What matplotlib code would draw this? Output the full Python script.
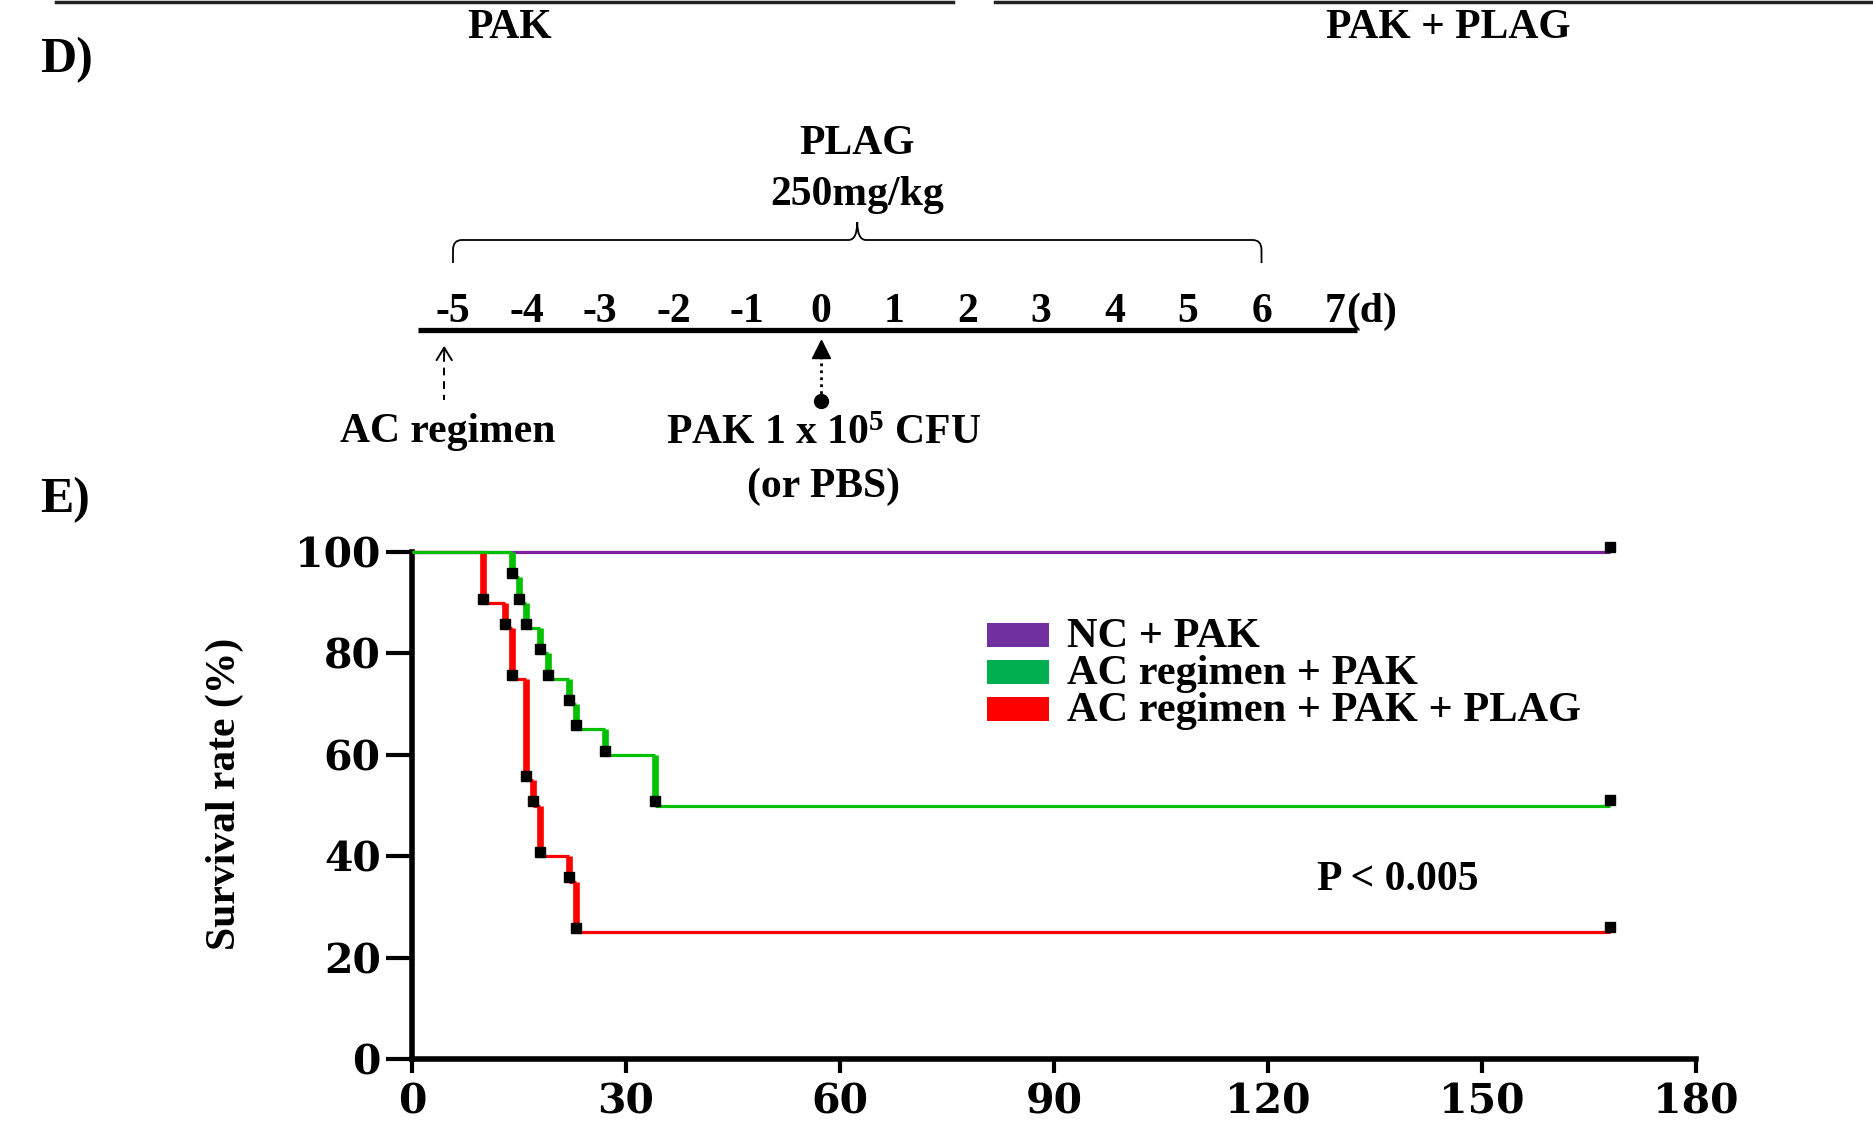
import numpy as np
import matplotlib
matplotlib.use("Agg")
import matplotlib.pyplot as plt
from matplotlib.lines import Line2D
from matplotlib.path import Path
from matplotlib.patches import PathPatch, Rectangle

W, H = 1873, 1122

# panel D: treatment schedule (days)
schedule_days = np.arange(-5, 8)
plag_start, plag_end = -5, 6
ac_day = -5
pak_day = 0

# panel E: Kaplan-Meier survival (%)
followup_end = 168
nc_times = []
nc_surv = []
ac_times = [14, 15, 16, 18, 19, 22, 23, 27, 34]
ac_surv = [95, 90, 85, 80, 75, 70, 65, 60, 50]
plag_times = [10, 13, 14, 16, 17, 18, 22, 23]
plag_surv = [90, 85, 75, 55, 50, 40, 35, 25]

group_labels = ["NC + PAK", "AC regimen + PAK", "AC regimen + PAK + PLAG"]
line_colors = ["#7B1FA0", "#00C000", "#FF0000"]
legend_colors = ["#7030A0", "#00B050", "#FF0000"]
x_ticks = [0, 30, 60, 90, 120, 150, 180]
y_ticks = [0, 20, 40, 60, 80, 100]
p_text = "P < 0.005"

plt.rcParams["font.family"] = ["Liberation Serif", "DejaVu Serif"]
plt.rcParams["font.weight"] = "bold"
plt.rcParams["mathtext.fontset"] = "custom"
plt.rcParams["mathtext.rm"] = "Liberation Serif:bold"
plt.rcParams["mathtext.it"] = "Liberation Serif:italic:bold"
plt.rcParams["mathtext.bf"] = "Liberation Serif:bold"


def fx(x):
    return x / W


def fy(y):
    return 1 - y / H


fig = plt.figure(figsize=(W / 100, H / 100), dpi=100)

# remains of the panel above
for x0, x1 in [(56, 953), (995, 1873)]:
    fig.add_artist(Line2D([fx(x0), fx(x1)], [fy(2), fy(2)], lw=2.5, color="#222222",
                          transform=fig.transFigure))
fig.text(fx(510), fy(28), "PAK", ha="center", va="center", fontsize=30, fontweight="bold")
fig.text(fx(1448), fy(28), "PAK + PLAG", ha="center", va="center", fontsize=30, fontweight="bold")
fig.text(fx(40), fy(60), "D)", ha="left", va="center", fontsize=36, fontweight="bold")
fig.text(fx(40), fy(500), "E)", ha="left", va="center", fontsize=36, fontweight="bold")

# ---- schedule (D) ----
px_per_day = 73.5
x_at_m5 = 453


def day_of(px):
    return -5 + (px - x_at_m5) / px_per_day


tl = fig.add_axes([0, fy(540), 1, 540 / H])
tl.set_xlim(day_of(0), day_of(W))
tl.set_ylim(540, 0)
tl.axis("off")

tl.plot([schedule_days[0] - 0.48, schedule_days[-1] + 0.3], [330, 330], color="black", lw=3.8,
        solid_capstyle="butt")
for d in schedule_days:
    tl.text(d, 312, str(d), ha="center", va="center", fontsize=30, fontweight="bold")
tl.text(schedule_days[-1] + 0.15, 312, "(d)", ha="left", va="center", fontsize=30, fontweight="bold")

# brace over PLAG days
mid = (plag_start + plag_end) / 2
r = 0.12
verts = [(plag_start, 263), (plag_start, 250), (plag_start, 240), (plag_start + r, 240),
         (mid - r, 240), (mid, 240), (mid, 222), (mid, 240), (mid + r, 240),
         (plag_end - r, 240), (plag_end, 240), (plag_end, 250), (plag_end, 263)]
codes = [Path.MOVETO, Path.LINETO, Path.CURVE3, Path.CURVE3,
         Path.LINETO, Path.CURVE3, Path.CURVE3, Path.CURVE3, Path.CURVE3,
         Path.LINETO, Path.CURVE3, Path.CURVE3, Path.LINETO]
tl.add_patch(PathPatch(Path(verts, codes), fill=False, lw=1.3, edgecolor="black"))
tl.text(mid, 144, "PLAG", ha="center", va="center", fontsize=30, fontweight="bold")
tl.text(mid, 195, "250mg/kg", ha="center", va="center", fontsize=30, fontweight="bold")

# AC regimen arrow (dashed, open head)
ax_x = ac_day - 0.12
tl.plot([ax_x, ax_x], [354, 400], color="black", lw=1.4, ls=(0, (4, 3)))
tl.annotate("", xy=(ax_x, 343), xytext=(ax_x, 358),
            arrowprops=dict(arrowstyle="->,head_length=0.9,head_width=0.55", lw=1.4, color="black"))
tl.text(ac_day - 0.07, 432, "AC regimen", ha="center", va="center", fontsize=30, fontweight="bold")

# PAK infection arrow (dotted, filled head, dot)
tl.plot([pak_day, pak_day], [356, 398], color="black", lw=2, ls=(0, (1, 1.5)))
tl.plot(pak_day, 349, marker="^", ms=13, color="black")
tl.plot(pak_day, 401, marker="o", ms=10, color="black")
tl.text(pak_day + 0.04, 434, "PAK 1 x 10$^{5}$ CFU", ha="center", va="center", fontsize=30,
        fontweight="bold")
tl.text(pak_day + 0.04, 487, "(or PBS)", ha="center", va="center", fontsize=30, fontweight="bold")

# ---- survival (E) ----
ax = fig.add_axes([fx(412), fy(1059), (1696 - 412) / W, (1059 - 552) / H])
ax.set_xlim(0, 180)
ax.set_ylim(0, 100)

groups = [(nc_times, nc_surv), (ac_times, ac_surv), (plag_times, plag_surv)]
order = [0, 2, 1]  # green drawn on top
for z, gi in enumerate(order):
    times, surv = groups[gi]
    color = line_colors[gi]
    t = np.array([0] + list(times) + [followup_end], dtype=float)
    s = np.array([100] + list(surv), dtype=float)
    ax.hlines(s, t[:-1], t[1:], colors=color, lw=2.3, zorder=3 + z, clip_on=False)
    if len(times):
        ax.vlines(times, s[:-1], s[1:], colors=color, lw=4.8, zorder=3 + z, clip_on=False)
        ax.plot(times, np.array(surv) + 0.8, ls="none", marker="s", ms=6.5, color="black",
                zorder=6 + z, clip_on=False)
    ax.plot([followup_end], [s[-1] + 1], ls="none", marker="s", ms=6.5, color="black",
            zorder=6 + z, clip_on=False)

for side in ["top", "right"]:
    ax.spines[side].set_visible(False)
for side in ["left", "bottom"]:
    ax.spines[side].set_linewidth(4)
ax.set_xticks(x_ticks)
ax.set_yticks(y_ticks)
ax.tick_params(axis="y", direction="out", length=18.5, width=3, pad=4)
ax.tick_params(axis="x", direction="out", length=10, width=3, pad=7)
for lab in ax.get_xticklabels() + ax.get_yticklabels():
    lab.set_fontfamily("DejaVu Serif")
    lab.set_fontweight("bold")
    lab.set_fontsize(29.5)

fig.text(fx(225), fy(794), "Survival rate (%)", rotation=90, ha="center", va="center",
         fontsize=30, fontweight="bold")

# legend
for i, (lab, col) in enumerate(zip(group_labels, legend_colors)):
    yc = 635 + i * 37
    fig.add_artist(Rectangle((fx(987), fy(yc + 12)), 62 / W, 24 / H, transform=fig.transFigure,
                             facecolor=col, edgecolor="none"))
    fig.text(fx(1067), fy(yc + 2), lab, ha="left", va="center", fontsize=30.5, fontweight="bold")

fig.text(fx(1398), fy(880), p_text, ha="center", va="center", fontsize=30, fontweight="bold")

fig.savefig("out.png", dpi=100)
